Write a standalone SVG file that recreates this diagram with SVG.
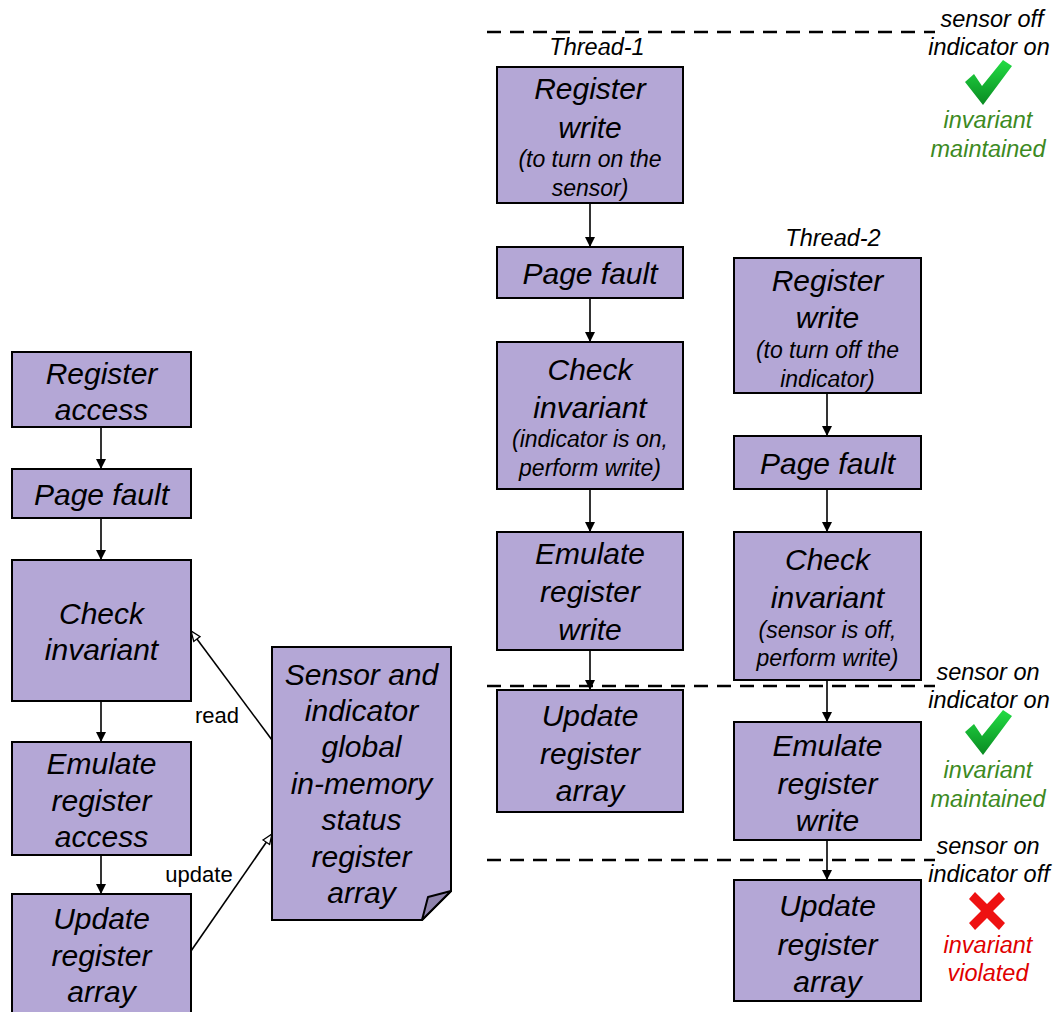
<svg xmlns="http://www.w3.org/2000/svg" width="1056" height="1012" viewBox="0 0 1056 1012">
  <defs>
    <marker id="arr" viewBox="0 0 10 10" refX="10" refY="5" markerWidth="10" markerHeight="10" markerUnits="userSpaceOnUse" orient="auto">
      <path d="M0,0 L10,5 L0,10 z" fill="#000"/>
    </marker>
    <marker id="open" viewBox="0 0 12 10" refX="11" refY="5" markerWidth="12" markerHeight="10" markerUnits="userSpaceOnUse" orient="auto">
      <path d="M1,1 L11,5 L1,9 z" fill="#fff" stroke="#000" stroke-width="1.3"/>
    </marker>
    <linearGradient id="gchk" x1="0" y1="0" x2="0" y2="1">
      <stop offset="0" stop-color="#22dd44"/>
      <stop offset="1" stop-color="#0a8a22"/>
    </linearGradient>
    <path id="check" d="M0,22 L9,14 L17,26 L38,0 L47,6 L18,45 z"/>
    <style>
      .box { fill: #b4a7d6; stroke: #000; stroke-width: 2; }
      .t { font-family: "Liberation Sans", Arial, sans-serif; font-style: italic; font-size: 30px; fill: #000; text-anchor: middle; }
      .s { font-family: "Liberation Sans", Arial, sans-serif; font-style: italic; font-size: 23px; fill: #000; text-anchor: middle; }
      .th { font-family: "Liberation Sans", Arial, sans-serif; font-style: italic; font-size: 23.5px; fill: #000; text-anchor: middle; }
      .st { font-family: "Liberation Sans", Arial, sans-serif; font-style: italic; font-size: 23.5px; fill: #000; text-anchor: middle; }
      .lbl { font-family: "Liberation Sans", Arial, sans-serif; font-size: 22px; fill: #000; text-anchor: middle; }
      .ok { fill: #3d8a1f; }
      .bad { fill: #e00000; }
      .edge { stroke: #000; stroke-width: 1.6; fill: none; }
      .dash { stroke: #000; stroke-width: 2.5; stroke-dasharray: 14 9; fill: none; }
    </style>
  </defs>

  <!-- time markers -->
  <g id="markers">
    <line class="dash" x1="487" y1="32" x2="935" y2="32"/>
    <line class="dash" x1="487" y1="686" x2="935" y2="686"/>
    <line class="dash" x1="487" y1="860" x2="935" y2="860"/>
  </g>

  <!-- left: generic flow -->
  <g id="l-reg-access">
    <rect class="box" x="12" y="352" width="179" height="75"/>
    <text class="t" x="101.5" y="384">Register</text>
    <text class="t" x="101.5" y="420">access</text>
  </g>
  <g id="l-page-fault">
    <rect class="box" x="12" y="469" width="179" height="49"/>
    <text class="t" x="101.5" y="505">Page fault</text>
  </g>
  <g id="l-check">
    <rect class="box" x="12" y="560" width="179" height="141"/>
    <text class="t" x="101.5" y="624">Check</text>
    <text class="t" x="101.5" y="660">invariant</text>
  </g>
  <g id="l-emulate">
    <rect class="box" x="12" y="742" width="179" height="113"/>
    <text class="t" x="101.5" y="774">Emulate</text>
    <text class="t" x="101.5" y="811">register</text>
    <text class="t" x="101.5" y="847">access</text>
  </g>
  <g id="l-update">
    <rect class="box" x="12" y="894" width="179" height="125"/>
    <text class="t" x="101.5" y="929">Update</text>
    <text class="t" x="101.5" y="966">register</text>
    <text class="t" x="101.5" y="1002">array</text>
  </g>
  <g id="status-array">
    <path class="box" d="M272,647 L451,647 L451,891 L422,920 L272,920 z"/>
    <path d="M451,891 L428,897 L422,920 z" fill="#8f84ad" stroke="#000" stroke-width="2" stroke-linejoin="round"/>
    <text class="t" x="361.5" y="685">Sensor and</text>
    <text class="t" x="361.5" y="721">indicator</text>
    <text class="t" x="361.5" y="757">global</text>
    <text class="t" x="361.5" y="794">in-memory</text>
    <text class="t" x="361.5" y="830">status</text>
    <text class="t" x="361.5" y="867">register</text>
    <text class="t" x="361.5" y="903">array</text>
  </g>

  <!-- thread 1 -->
  <text class="th" x="597" y="55">Thread-1</text>
  <g id="t1-reg-write">
    <rect class="box" x="497" y="67" width="186" height="136"/>
    <text class="t" x="590" y="99">Register</text>
    <text class="t" x="590" y="138">write</text>
    <text class="s" x="590" y="167">(to turn on the</text>
    <text class="s" x="590" y="196">sensor)</text>
  </g>
  <g id="t1-page-fault">
    <rect class="box" x="497" y="247" width="186" height="51"/>
    <text class="t" x="590" y="284">Page fault</text>
  </g>
  <g id="t1-check">
    <rect class="box" x="497" y="342" width="186" height="147"/>
    <text class="t" x="590" y="380">Check</text>
    <text class="t" x="590" y="418">invariant</text>
    <text class="s" x="590" y="447">(indicator is on,</text>
    <text class="s" x="590" y="476">perform write)</text>
  </g>
  <g id="t1-emulate">
    <rect class="box" x="497" y="532" width="186" height="118"/>
    <text class="t" x="590" y="564">Emulate</text>
    <text class="t" x="590" y="602">register</text>
    <text class="t" x="590" y="640">write</text>
  </g>
  <g id="t1-update">
    <rect class="box" x="497" y="690" width="186" height="122"/>
    <text class="t" x="590" y="726">Update</text>
    <text class="t" x="590" y="764">register</text>
    <text class="t" x="590" y="801">array</text>
  </g>

  <!-- thread 2 -->
  <text class="th" x="833" y="246">Thread-2</text>
  <g id="t2-reg-write">
    <rect class="box" x="734" y="258" width="187" height="135"/>
    <text class="t" x="827.5" y="291">Register</text>
    <text class="t" x="827.5" y="328">write</text>
    <text class="s" x="827.5" y="358">(to turn off the</text>
    <text class="s" x="827.5" y="387">indicator)</text>
  </g>
  <g id="t2-page-fault">
    <rect class="box" x="734" y="436" width="187" height="53"/>
    <text class="t" x="827.5" y="474">Page fault</text>
  </g>
  <g id="t2-check">
    <rect class="box" x="734" y="532" width="187" height="148"/>
    <text class="t" x="827.5" y="570">Check</text>
    <text class="t" x="827.5" y="608">invariant</text>
    <text class="s" x="827.5" y="638">(sensor is off,</text>
    <text class="s" x="827.5" y="666">perform write)</text>
  </g>
  <g id="t2-emulate">
    <rect class="box" x="734" y="722" width="187" height="118"/>
    <text class="t" x="827.5" y="756">Emulate</text>
    <text class="t" x="827.5" y="794">register</text>
    <text class="t" x="827.5" y="831">write</text>
  </g>
  <g id="t2-update">
    <rect class="box" x="734" y="880" width="187" height="121"/>
    <text class="t" x="827.5" y="916">Update</text>
    <text class="t" x="827.5" y="955">register</text>
    <text class="t" x="827.5" y="992">array</text>
  </g>

  <!-- connectors -->
  <g id="connectors">
    <line class="edge" x1="101" y1="427" x2="101" y2="469" marker-end="url(#arr)"/>
    <line class="edge" x1="101" y1="518" x2="101" y2="560" marker-end="url(#arr)"/>
    <line class="edge" x1="101" y1="701" x2="101" y2="742" marker-end="url(#arr)"/>
    <line class="edge" x1="101" y1="855" x2="101" y2="894" marker-end="url(#arr)"/>
    <line class="edge" x1="272" y1="740" x2="191" y2="631" marker-end="url(#open)"/>
    <line class="edge" x1="191" y1="951" x2="272" y2="834" marker-end="url(#open)"/>
    <text class="lbl" x="217" y="723">read</text>
    <text class="lbl" x="199" y="882">update</text>

    <line class="edge" x1="590" y1="203" x2="590" y2="247" marker-end="url(#arr)"/>
    <line class="edge" x1="590" y1="298" x2="590" y2="342" marker-end="url(#arr)"/>
    <line class="edge" x1="590" y1="489" x2="590" y2="532" marker-end="url(#arr)"/>
    <line class="edge" x1="590" y1="650" x2="590" y2="690" marker-end="url(#arr)"/>

    <line class="edge" x1="827" y1="393" x2="827" y2="436" marker-end="url(#arr)"/>
    <line class="edge" x1="827" y1="489" x2="827" y2="532" marker-end="url(#arr)"/>
    <line class="edge" x1="827" y1="680" x2="827" y2="722" marker-end="url(#arr)"/>
    <line class="edge" x1="827" y1="840" x2="827" y2="880" marker-end="url(#arr)"/>
  </g>

  <!-- state annotations -->
  <g id="state-1">
    <text class="st" x="992" y="27">sensor off</text>
    <text class="st" x="989" y="55">indicator on</text>
    <use href="#check" x="965" y="60" fill="url(#gchk)"/>
    <text class="st ok" x="988" y="128">invariant</text>
    <text class="st ok" x="988" y="157">maintained</text>
  </g>
  <g id="state-2">
    <text class="st" x="988" y="680">sensor on</text>
    <text class="st" x="989" y="708">indicator on</text>
    <use href="#check" x="965" y="710" fill="url(#gchk)"/>
    <text class="st ok" x="988" y="778">invariant</text>
    <text class="st ok" x="988" y="807">maintained</text>
  </g>
  <g id="state-3">
    <text class="st" x="988" y="854">sensor on</text>
    <text class="st" x="989" y="882">indicator off</text>
    <path d="M969,899 L975,892 L987,904 L999,892 L1005,899 L993,911 L1005,923 L999,930 L987,918 L975,930 L969,923 L981,911 z" fill="#ee1111"/>
    <text class="st bad" x="988" y="953">invariant</text>
    <text class="st bad" x="988" y="981">violated</text>
  </g>
</svg>
